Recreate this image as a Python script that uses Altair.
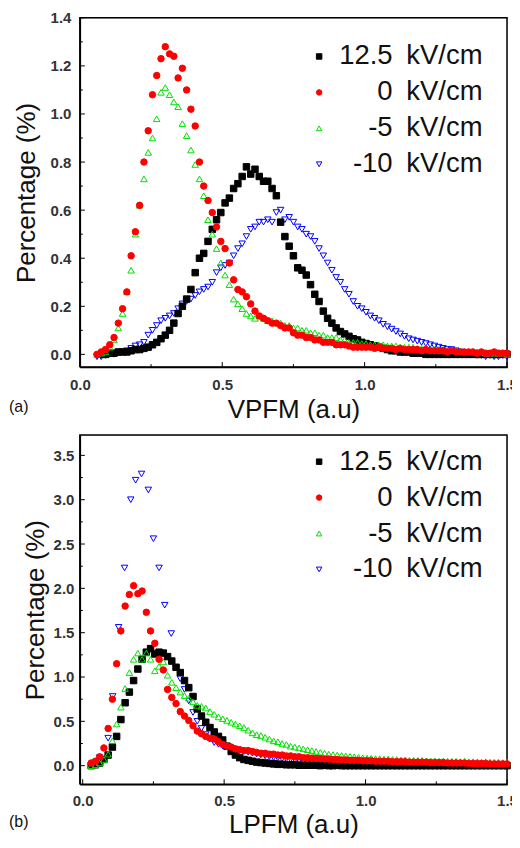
import altair as alt
import pandas as pd

FONT = "Liberation Sans"

LABELS = ["12.5\u2002kV/cm", "0\u2002kV/cm", "-5\u2002kV/cm", "-10\u2002kV/cm"]
COLORS = ["#000000", "#ff0000", "#00e000", "#0000ff"]
FILLS = ["#000000", "#ff0000", "transparent", "transparent"]
SHAPES = ["square", "circle", "triangle-up", "triangle-down"]

# ---------------- panel (a) : VPFM ----------------
GRID_A = [0.060, 0.075, 0.090, 0.105, 0.120, 0.135, 0.150, 0.165, 0.180, 0.195,
          0.210, 0.225, 0.240, 0.255, 0.270, 0.285, 0.300, 0.315, 0.330, 0.345,
          0.360, 0.375, 0.390, 0.405, 0.420, 0.435, 0.450, 0.465, 0.480, 0.495,
          0.510, 0.525, 0.540, 0.555, 0.570, 0.585, 0.600, 0.615, 0.630, 0.645,
          0.660, 0.675, 0.690, 0.705, 0.720, 0.735, 0.750, 0.765, 0.780, 0.795,
          0.810, 0.825, 0.840, 0.855, 0.870, 0.885, 0.900, 0.915, 0.930, 0.945,
          0.960, 0.975, 0.990, 1.005, 1.020, 1.035, 1.050, 1.065, 1.080, 1.095,
          1.110, 1.125, 1.140, 1.155, 1.170, 1.185, 1.200, 1.215, 1.230, 1.245,
          1.260, 1.275, 1.290, 1.305, 1.320, 1.335, 1.350, 1.365, 1.380, 1.395,
          1.410, 1.425, 1.440, 1.455, 1.470, 1.485, 1.500]

A_P125 = [None, 0.000, 0.000, 0.005, 0.005, 0.010, 0.010, 0.010, 0.015, 0.020,
          0.020, 0.025, 0.030, 0.040, 0.050, 0.065, 0.080, 0.100, 0.130, 0.170,
          0.200, 0.230, 0.270, 0.340, 0.400, 0.420, 0.470, 0.520, 0.560, 0.590,
          0.630, 0.650, 0.690, 0.710, 0.740, 0.780, 0.750, 0.770, 0.740, 0.720,
          0.720, 0.690, 0.660, 0.550, 0.490, 0.450, 0.410, 0.360, 0.350, 0.330,
          0.290, 0.250, 0.220, 0.180, 0.150, 0.130, 0.110, 0.095, 0.085, 0.075,
          0.065, 0.060, 0.050, 0.045, 0.040, 0.035, 0.030, 0.025, 0.020, 0.015,
          0.015, 0.010, 0.010, 0.010, 0.005, 0.005, 0.005, 0.000, 0.000, 0.000,
          0.000, 0.000, 0.000, 0.000, 0.000, 0.000, 0.000, 0.000, 0.000, 0.000,
          0.000, 0.000, 0.000, 0.000, 0.000, 0.000, 0.000]

A_P0 = [0.000, 0.010, 0.020, 0.040, 0.070, 0.130, 0.190, 0.260, 0.410, 0.510,
        0.620, 0.800, 0.930, 1.080, 1.160, 1.230, 1.280, 1.250, 1.240, 1.150,
        1.190, 1.100, 1.020, 0.950, 0.800, 0.700, 0.640, 0.590, 0.530, 0.470,
        0.440, 0.380, 0.310, 0.270, 0.260, 0.240, 0.210, 0.180, 0.160, 0.150,
        0.140, 0.130, 0.130, 0.120, 0.110, 0.110, 0.090, 0.080, 0.080, 0.070,
        0.070, 0.060, 0.060, 0.050, 0.050, 0.050, 0.040, 0.040, 0.040, 0.035,
        0.030, 0.030, 0.030, 0.030, 0.030, 0.025, 0.030, 0.025, 0.025, 0.025,
        0.020, 0.025, 0.020, 0.020, 0.020, 0.020, 0.015, 0.020, 0.015, 0.015,
        0.015, 0.015, 0.010, 0.015, 0.010, 0.010, 0.010, 0.010, 0.010, 0.005,
        0.010, 0.005, 0.005, 0.010, 0.005, 0.005, 0.005]

A_M5 = [0.000, 0.005, 0.010, 0.030, 0.060, 0.110, 0.170, 0.260, 0.350, 0.500,
        0.620, 0.730, 0.840, 0.900, 0.980, 1.090, 1.110, 1.080, 1.050, 1.030,
        0.960, 0.910, 0.850, 0.790, 0.730, 0.660, 0.560, 0.500, 0.440, 0.380,
        0.330, 0.290, 0.230, 0.210, 0.190, 0.170, 0.160, 0.150, 0.160, 0.150,
        0.140, 0.140, 0.130, 0.130, 0.120, 0.120, 0.110, 0.110, 0.100, 0.100,
        0.090, 0.090, 0.080, 0.080, 0.070, 0.070, 0.070, 0.060, 0.060, 0.050,
        0.050, 0.050, 0.045, 0.045, 0.040, 0.040, 0.040, 0.040, 0.035, 0.035,
        0.035, 0.030, 0.030, 0.030, 0.030, 0.025, 0.025, 0.025, 0.020, 0.020,
        0.020, 0.020, 0.015, 0.015, 0.015, 0.015, 0.010, 0.010, 0.010, 0.010,
        0.010, 0.005, 0.005, 0.005, 0.005, 0.005, 0.000]

A_M10 = [-0.010, -0.010, -0.005, 0.000, 0.000, 0.005, 0.010, 0.015, 0.025, 0.035,
         0.040, 0.050, 0.080, 0.100, 0.120, 0.140, 0.150, 0.160, 0.170, 0.190,
         0.210, 0.220, 0.230, 0.245, 0.260, 0.270, 0.280, 0.300, 0.340, 0.360,
         0.370, 0.380, 0.410, 0.440, 0.460, 0.490, 0.520, 0.530, 0.550, 0.550,
         0.560, 0.550, 0.590, 0.600, 0.560, 0.570, 0.550, 0.530, 0.520, 0.500,
         0.490, 0.470, 0.440, 0.410, 0.380, 0.350, 0.320, 0.300, 0.270, 0.250,
         0.220, 0.200, 0.190, 0.175, 0.160, 0.150, 0.140, 0.125, 0.115, 0.105,
         0.095, 0.085, 0.075, 0.065, 0.060, 0.055, 0.050, 0.045, 0.040, 0.035,
         0.030, 0.025, 0.020, 0.020, 0.015, 0.010, 0.005, 0.000, 0.000, -0.005,
         -0.005, -0.010, -0.005, -0.010, -0.010, -0.005, -0.010]

# ---------------- panel (b) : LPFM ----------------
GRID_B = [0.030, 0.045, 0.060, 0.075, 0.090, 0.105, 0.120, 0.135, 0.150, 0.165,
          0.180, 0.195, 0.210, 0.225, 0.240, 0.255, 0.270, 0.285, 0.300, 0.315,
          0.330, 0.345, 0.360, 0.375, 0.390, 0.405, 0.420, 0.435, 0.450, 0.465,
          0.480, 0.495, 0.510, 0.525, 0.540, 0.555, 0.570, 0.585, 0.600, 0.615,
          0.630, 0.645, 0.660, 0.675, 0.690, 0.705, 0.720, 0.735, 0.750, 0.765,
          0.780, 0.795, 0.810, 0.825, 0.840, 0.855, 0.870, 0.885, 0.900, 0.915,
          0.930, 0.945, 0.960, 0.975, 0.990, 1.005, 1.020, 1.035, 1.050, 1.065,
          1.080, 1.095, 1.110, 1.125, 1.140, 1.155, 1.170, 1.185, 1.200, 1.215,
          1.230, 1.245, 1.260, 1.275, 1.290, 1.305, 1.320, 1.335, 1.350, 1.365,
          1.380, 1.395, 1.410, 1.425, 1.440, 1.455, 1.470, 1.485, 1.500]

B_P125 = [0.000, 0.010, 0.030, 0.070, 0.120, 0.210, 0.330, 0.520, 0.710, 0.830,
          0.960, 1.090, 1.200, 1.280, 1.320, 1.260, 1.280, 1.270, 1.230, 1.180,
          1.110, 1.050, 0.960, 0.880, 0.780, 0.640, 0.560, 0.490, 0.430, 0.380,
          0.330, 0.290, 0.220, 0.160, 0.120, 0.090, 0.070, 0.060, 0.050, 0.040,
          0.035, 0.030, 0.025, 0.020, 0.015, 0.015, 0.010, 0.010, 0.010, 0.005,
          0.005, 0.005, 0.005, 0.005, 0.000, 0.005, 0.000, 0.000, 0.005, 0.000,
          0.000, 0.000, 0.000, 0.000, 0.000, 0.000, 0.000, 0.000, 0.000, 0.000,
          0.000, 0.000, 0.000, 0.000, 0.000, 0.000, 0.000, 0.000, 0.000, 0.000,
          0.000, 0.000, 0.000, 0.000, 0.000, 0.000, 0.000, 0.000, 0.000, 0.000,
          0.000, 0.000, 0.000, 0.000, 0.000, 0.000, 0.000, 0.000, 0.000]

B_P0 = [0.030, 0.050, 0.100, 0.200, 0.420, 0.750, 1.150, 1.520, 1.800, 1.930,
        2.030, 1.940, 1.970, 1.730, 1.520, 1.380, 1.200, 1.080, 0.860, 0.770,
        0.700, 0.610, 0.560, 0.510, 0.450, 0.390, 0.360, 0.330, 0.310, 0.300,
        0.270, 0.240, 0.220, 0.210, 0.190, 0.180, 0.170, 0.170, 0.160, 0.150,
        0.140, 0.140, 0.130, 0.130, 0.120, 0.120, 0.110, 0.110, 0.100, 0.100,
        0.090, 0.090, 0.085, 0.080, 0.080, 0.075, 0.075, 0.070, 0.070, 0.065,
        0.065, 0.060, 0.060, 0.060, 0.055, 0.055, 0.055, 0.050, 0.050, 0.050,
        0.050, 0.045, 0.045, 0.045, 0.045, 0.040, 0.040, 0.040, 0.040, 0.040,
        0.035, 0.035, 0.035, 0.035, 0.030, 0.030, 0.030, 0.030, 0.030, 0.025,
        0.025, 0.025, 0.025, 0.025, 0.020, 0.020, 0.020, 0.020, 0.020]

B_M5 = [0.000, 0.010, 0.030, 0.070, 0.130, 0.280, 0.470, 0.660, 0.870, 1.050,
        1.200, 1.270, 1.200, 1.270, 1.200, 1.070, 1.120, 1.170, 1.020, 0.940,
        0.880, 0.830, 0.790, 0.760, 0.720, 0.680, 0.670, 0.650, 0.610, 0.580,
        0.550, 0.530, 0.510, 0.490, 0.470, 0.450, 0.430, 0.400, 0.370, 0.350,
        0.340, 0.320, 0.300, 0.280, 0.270, 0.250, 0.240, 0.220, 0.210, 0.200,
        0.190, 0.180, 0.170, 0.160, 0.150, 0.140, 0.130, 0.125, 0.120, 0.115,
        0.110, 0.105, 0.100, 0.095, 0.090, 0.085, 0.085, 0.080, 0.080, 0.075,
        0.075, 0.070, 0.070, 0.065, 0.065, 0.060, 0.060, 0.060, 0.060, 0.055,
        0.055, 0.055, 0.050, 0.055, 0.050, 0.050, 0.050, 0.045, 0.050, 0.045,
        0.045, 0.045, 0.040, 0.045, 0.040, 0.040, 0.040, 0.035, 0.040]

X_B_M10 = [0.042, 0.060, 0.090, 0.106, 0.127, 0.148, 0.170, 0.187, 0.208, 0.232,
           0.250, 0.270, 0.290, 0.313,
           0.330, 0.345, 0.360, 0.375, 0.390, 0.405, 0.420, 0.435, 0.450, 0.465,
           0.480, 0.495, 0.510, 0.525, 0.540, 0.555, 0.570, 0.585, 0.600, 0.615,
           0.630, 0.645, 0.660, 0.675, 0.690, 0.705, 0.720, 0.735, 0.750, 0.765,
           0.780, 0.795, 0.810, 0.825, 0.840, 0.855, 0.870, 0.885, 0.900, 0.915,
           0.930, 0.945, 0.960, 0.975, 0.990, 1.005, 1.020, 1.035, 1.050, 1.065,
           1.080, 1.095, 1.110, 1.125, 1.140, 1.155, 1.170, 1.185, 1.200, 1.215,
           1.230, 1.245, 1.260, 1.275, 1.290, 1.305, 1.320, 1.335, 1.350, 1.365,
           1.380, 1.395, 1.410, 1.425, 1.440, 1.455, 1.470, 1.485, 1.500]

B_M10 = [0.000, 0.090, 0.310, 0.780, 1.560, 2.230, 3.000, 3.220, 3.290, 3.110,
         2.560, 2.230, 1.810, 1.490,
         1.100, 0.980, 0.860, 0.730, 0.600, 0.500, 0.420, 0.350, 0.300, 0.260,
         0.240, 0.220, 0.210, 0.190, 0.180, 0.170, 0.160, 0.150, 0.140, 0.130,
         0.120, 0.110, 0.100, 0.090, 0.085, 0.080, 0.075, 0.070, 0.065, 0.060,
         0.055, 0.050, 0.050, 0.045, 0.045, 0.040, 0.040, 0.035, 0.035, 0.030,
         0.030, 0.030, 0.025, 0.025, 0.020, 0.020, 0.020, 0.015, 0.015, 0.015,
         0.015, 0.010, 0.010, 0.010, 0.010, 0.010, 0.005, 0.005, 0.005, 0.005,
         0.005, 0.000, 0.005, 0.000, 0.000, 0.000, 0.000, -0.005, 0.000, 0.000,
         0.000, -0.005, 0.000, 0.000, -0.005, 0.000, 0.000, -0.005, 0.000]

# tick values
X_MAJOR = [0.0, 0.5, 1.0, 1.5]
X_MINOR = [0.25, 0.75, 1.25]
A_Y_MAJOR = [0.0, 0.2, 0.4, 0.6, 0.8, 1.0, 1.2, 1.4]
A_Y_MINOR = [0.1, 0.3, 0.5, 0.7, 0.9, 1.1, 1.3]
B_Y_MAJOR = [0.0, 0.5, 1.0, 1.5, 2.0, 2.5, 3.0, 3.5]
B_Y_MINOR = [0.25, 0.75, 1.25, 1.75, 2.25, 2.75, 3.25]


def panel(series, xdom, ydom, ymaj, ymin, W, H, xtitle, tag, tag_x, tag_y,
          leg_x, leg_y, xlab_pad, xtitle_pad, ylab_pad, ytitle_pad):
    rows = []
    for label, xs, ys in series:
        for xv, yv in zip(xs, ys):
            if yv is None:
                continue
            rows.append({"x": xv, "y": yv, "series": label})
    df = pd.DataFrame(rows)

    xscale = alt.Scale(domain=xdom, nice=False, zero=False)
    yscale = alt.Scale(domain=ydom, nice=False, zero=False)
    leg = alt.Legend(orient="none", legendX=leg_x, legendY=leg_y, title=None,
                     labelFont=FONT, labelFontSize=27.5, labelColor="#111",
                     labelLimit=400, symbolSize=30, symbolStrokeWidth=1,
                     rowPadding=7, labelOffset=150, labelAlign="right", padding=0)

    common = dict(ticks=False, domain=True, domainColor="#000000", domainWidth=1.5,
                  domainOpacity=1, grid=False, labelFlush=False, labelOverlap=False,
                  labelFont=FONT, labelFontSize=15, labelFontWeight="bold",
                  labelColor="#333333", titleFont=FONT, titleFontSize=26,
                  titleFontWeight="normal", titleColor="#111111")
    xaxis = alt.Axis(values=X_MAJOR, format=".1f", title=xtitle,
                     labelPadding=xlab_pad, titlePadding=xtitle_pad, **common)
    yaxis = alt.Axis(values=ymaj, format=".1f", title="Percentage (%)",
                     labelPadding=ylab_pad, titlePadding=ytitle_pad, **common)

    # frame traced through the four corners of the axis ranges (data units)
    frame_df = pd.DataFrame({"x": [xdom[0], xdom[1], xdom[1], xdom[0], xdom[0]],
                             "y": [ydom[0], ydom[0], ydom[1], ydom[1], ydom[0]],
                             "o": [0, 1, 2, 3, 4]})
    frame_line = alt.Chart(frame_df).mark_line(
        color="black", strokeWidth=1.5, opacity=1, clip=False).encode(
        x=alt.X("x:Q", scale=xscale, axis=None),
        y=alt.Y("y:Q", scale=yscale, axis=None),
        order="o:Q")

    # inward ticks
    def xt(vals, length):
        return alt.Chart(pd.DataFrame({"x": vals})).mark_rule(
            color="black", strokeWidth=1).encode(
            x=alt.X("x:Q", scale=xscale, axis=None),
            y=alt.value(H), y2=alt.value(H - length))

    def yt(vals, length):
        return alt.Chart(pd.DataFrame({"y": vals})).mark_rule(
            color="black", strokeWidth=1).encode(
            y=alt.Y("y:Q", scale=yscale, axis=None),
            x=alt.value(0), x2=alt.value(length))

    pts = alt.Chart(df).mark_point(size=42, strokeWidth=1, opacity=1).encode(
        x=alt.X("x:Q", scale=xscale, axis=xaxis),
        y=alt.Y("y:Q", scale=yscale, axis=yaxis),
        shape=alt.Shape("series:N", scale=alt.Scale(domain=LABELS, range=SHAPES), legend=leg),
        stroke=alt.Stroke("series:N", scale=alt.Scale(domain=LABELS, range=COLORS), legend=leg),
        fill=alt.Fill("series:N", scale=alt.Scale(domain=LABELS, range=FILLS), legend=leg),
    )

    tag_text = alt.Chart(pd.DataFrame({"t": [tag]})).mark_text(
        align="left", baseline="middle", font=FONT, fontSize=16, color="#111"
    ).encode(x=alt.value(tag_x), y=alt.value(tag_y), text="t:N")

    return alt.layer(frame_line, xt(X_MAJOR, 5), xt(X_MINOR, 3), yt(ymaj, 5), yt(ymin, 3),
                     pts, tag_text).resolve_axis(
        x="independent", y="independent").properties(width=W, height=H)


series_a = [(LABELS[3], GRID_A, A_M10), (LABELS[0], GRID_A, A_P125),
            (LABELS[2], GRID_A, A_M5), (LABELS[1], GRID_A, A_P0)]
series_b = [(LABELS[3], X_B_M10, B_M10), (LABELS[0], GRID_B, B_P125),
            (LABELS[2], GRID_B, B_M5), (LABELS[1], GRID_B, B_P0)]

W = 428
HA = 350
HB = 350
pa = panel(series_a, [0.0, 1.5], [-0.053, 1.4], A_Y_MAJOR, A_Y_MINOR, W, HA,
           "VPFM (a.u)", "(a)", -71, HA + 40, 226, 25, 10, 4, 9, 11)
pb = panel(series_b, [-0.01, 1.5], [-0.21, 3.73], B_Y_MAJOR, B_Y_MINOR, W, HB,
           "LPFM (a.u)", "(b)", -71, HB + 38, 226, 13, 9, 3, 6, 5)

chart = alt.vconcat(pa, pb, spacing=8).resolve_scale(
    x="independent", y="independent", shape="independent",
    stroke="independent", fill="independent"
).resolve_legend(shape="independent", stroke="independent", fill="independent").properties(
    padding={"left": 0, "top": 1, "right": -6, "bottom": 0}
)

chart.save("out.html", embed_options={"renderer": "svg", "actions": False})
